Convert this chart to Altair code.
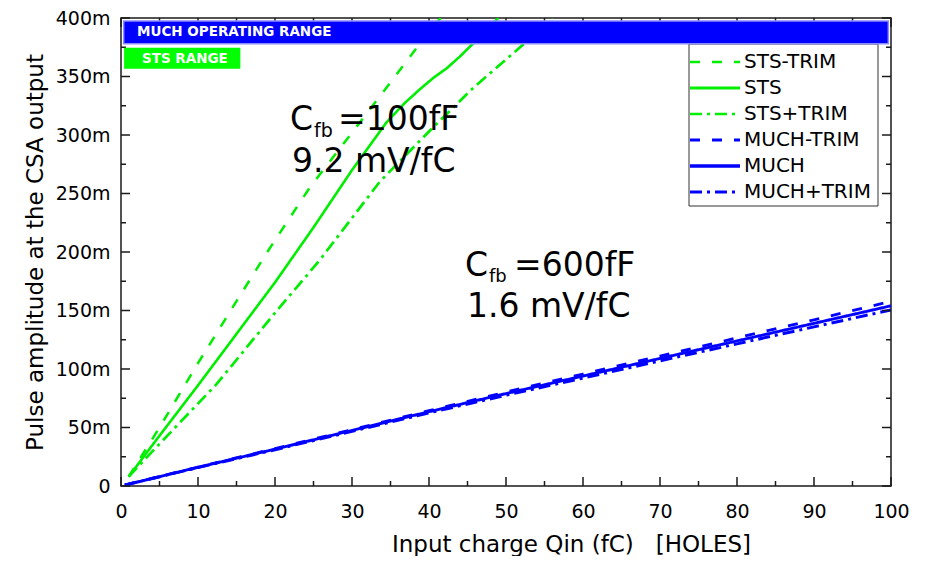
import altair as alt
import pandas as pd

# ---------------- data ----------------
series_names = ["STS-TRIM", "STS", "STS+TRIM", "MUCH-TRIM", "MUCH", "MUCH+TRIM"]

sts_minus_x = [1, 5, 10, 15, 19, 24.5, 30, 35, 38.8, 41.5]
sts_minus_y = [8, 50, 105, 158, 200, 255, 302, 345, 378, 400]

sts_x = [1, 5, 10, 15, 20, 25, 30, 34.5, 36.8, 38.8, 40.6, 42.3, 44, 45.7, 49]
sts_y = [8, 43, 86, 130, 174, 221, 270, 311, 327, 339, 349, 357, 367, 378, 400]

sts_plus_x = [1, 5, 12.4, 20, 25.8, 33.6, 40, 45.7, 52.7, 56]
sts_plus_y = [8, 36, 87, 148, 193, 260, 303, 340, 380, 400]

much_x = [0.5, 10, 20, 30, 40, 50, 60, 70, 80, 90, 100]
much_y = [0.8, 16, 31.5, 47.5, 63.5, 79, 94, 109, 124, 139, 154]
much_minus_y = [0.8, 16.2, 32, 48.2, 64.4, 80.3, 95.7, 111, 126.6, 142, 157.8]
much_plus_y = [0.8, 15.8, 31, 46.7, 62.5, 77.6, 92.2, 107, 121.5, 136, 150.5]

band_names = ["MUCH OPERATING RANGE", "STS RANGE"]
band_x0 = [0.35, 0.4]
band_x1 = [99.65, 15.5]
band_y0 = [378, 356.6]
band_y1 = [397.5, 374.5]

x_ticks = [0, 10, 20, 30, 40, 50, 60, 70, 80, 90, 100]
y_ticks = [0, 50, 100, 150, 200, 250, 300, 350, 400]

x_title = "Input charge Qin (fC)\u00a0\u00a0 [HOLES]"
y_title = "Pulse amplitude at the CSA output"

# ---------------- styling ----------------
W, H = 770, 468
XMAX, YMAX = 100.0, 400.0
FONT = "DejaVu Sans"
GREEN = "#00ee00"
BLUE = "#0000ff"
FRAME = "#1a1a1a"
OX, OY = 121, 18  # page position of the plot origin

colors = [GREEN, GREEN, GREEN, BLUE, BLUE, BLUE]
dashes = [[10, 12], [1, 0], [12, 5, 3, 5], [10, 12], [1, 0], [12, 5, 3, 5]]
widths = [2.5, 3, 2.5, 3, 3.5, 3]

series_x = [sts_minus_x, sts_x, sts_plus_x, much_x, much_x, much_x]
series_y = [sts_minus_y, sts_y, sts_plus_y, much_minus_y, much_y, much_plus_y]

rows = []
for k, name in enumerate(series_names):
    for j, (xv, yv) in enumerate(zip(series_x[k], series_y[k])):
        rows.append({"series": name, "i": j, "x": xv, "y": yv})
df = pd.DataFrame(rows)

xs = alt.Scale(domain=[0, XMAX], nice=False, zero=False)
ys = alt.Scale(domain=[0, YMAX], nice=False, zero=False)

x_axis = alt.Axis(values=x_ticks, title=x_title, labelPadding=16, labelFlush=False,
                  titleX=450, titleY=551 - (OY + H),
                  titleAlign="center", titleBaseline="alphabetic")
y_axis = alt.Axis(values=y_ticks, title=y_title, labelPadding=11, labelFlush=False,
                  labelExpr="datum.value == 0 ? '0' : datum.value + 'm'",
                  titleX=-79, titleBaseline="alphabetic")

def X(f):
    return alt.X(f, scale=xs, axis=x_axis, title=x_title)

def Y(f):
    return alt.Y(f, scale=ys, axis=y_axis, title=y_title)

lines = alt.Chart(df).mark_line(clip=True, strokeCap="butt").encode(
    x=X("x:Q"),
    y=Y("y:Q"),
    color=alt.Color("series:N", scale=alt.Scale(domain=series_names, range=colors), legend=None),
    strokeDash=alt.StrokeDash("series:N", scale=alt.Scale(domain=series_names, range=dashes), legend=None),
    strokeWidth=alt.StrokeWidth("series:N", scale=alt.Scale(domain=series_names, range=widths), legend=None),
    detail="series:N",
    order="i:Q",
)

# ---------------- inward frame ticks ----------------
px_y = YMAX / H
px_x = XMAX / W
def tick_len(v, major_step):
    return 9 if abs(v / major_step - round(v / major_step)) < 1e-9 else 5

xv = [i * 5 for i in range(21)]
yv = [i * 25 for i in range(17)]
bottom_df = pd.DataFrame({"v": xv, "a": [0.0] * len(xv), "b": [tick_len(v, 10) * px_y for v in xv]})
top_df = pd.DataFrame({"v": xv, "a": [YMAX] * len(xv), "b": [YMAX - tick_len(v, 10) * px_y for v in xv]})
left_df = pd.DataFrame({"v": yv, "a": [0.0] * len(yv), "b": [tick_len(v, 50) * px_x for v in yv]})
right_df = pd.DataFrame({"v": yv, "a": [XMAX] * len(yv), "b": [XMAX - tick_len(v, 50) * px_x for v in yv]})

def hticks(d):
    return alt.Chart(d).mark_rule(color=FRAME, strokeWidth=1.5).encode(
        x=X("v:Q"), y=Y("a:Q"), y2="b:Q")

def vticks(d):
    return alt.Chart(d).mark_rule(color=FRAME, strokeWidth=1.5).encode(
        y=Y("v:Q"), x=X("a:Q"), x2="b:Q")

ticks = [hticks(bottom_df), hticks(top_df), vticks(left_df), vticks(right_df)]

# ---------------- range bands ----------------
band_df = pd.DataFrame({"name": band_names, "x0": band_x0, "x1": band_x1, "y0": band_y0, "y1": band_y1})
band_blue = alt.Chart(band_df.iloc[[0]]).mark_rect(fill=BLUE, stroke="#8c8cff", strokeWidth=1.5).encode(
    x=X("x0:Q"), x2="x1:Q", y=Y("y0:Q"), y2="y1:Q")
band_green = alt.Chart(band_df.iloc[[1]]).mark_rect(fill="#00ff00").encode(
    x=X("x0:Q"), x2="x1:Q", y=Y("y0:Q"), y2="y1:Q")

one = pd.DataFrame({"k": [0]})

def text(t, px, py, size, weight="normal", color="black", baseline="alphabetic"):
    return alt.Chart(one).mark_text(
        text=t, align="left", baseline=baseline, font=FONT, fontSize=size,
        fontWeight=weight, color=color).encode(
        x=alt.value(px - OX), y=alt.value(py - OY))

band_texts = [
    text(band_names[0], 137, 32, 13.5, weight="bold", color="white", baseline="middle"),
    text(band_names[1], 142, 58.5, 13.5, weight="bold", color="white", baseline="middle"),
]

# ---------------- annotations ----------------
annots = [
    text("C", 290, 130, 33), text("fb", 314, 137, 19), text("=100fF", 338, 130, 33),
    text("9.2 mV/fC", 292, 172, 33),
    text("C", 465, 276, 33), text("fb", 489, 282, 18), text("=600fF", 514, 276, 33),
    text("1.6 mV/fC", 467, 317, 33),
]

# ---------------- legend ----------------
legend_box = alt.Chart(one).mark_rect(fillOpacity=0, stroke="#333333", strokeWidth=1).encode(
    x=alt.value(689 - OX), x2=alt.value(878 - OX), y=alt.value(44 - OY), y2=alt.value(206 - OY))
legend_rows = [62, 88, 114, 140, 166, 192]
legend_layers = [legend_box]
for k, name in enumerate(series_names):
    ry = legend_rows[k]
    legend_layers.append(
        alt.Chart(one).mark_rule(color=colors[k], strokeDash=dashes[k], strokeWidth=widths[k],
                                 strokeCap="butt").encode(
            x=alt.value(690 - OX), x2=alt.value(740 - OX), y=alt.value(ry - OY)))
    legend_layers.append(text(name, 744, ry, 20, baseline="middle"))

chart = alt.layer(
    lines, *ticks, *legend_layers, band_blue, band_green, *band_texts, *annots
).properties(
    width=W, height=H,
    autosize=alt.AutoSizeParams(type="none"),
    padding={"left": OX - 8, "top": OY - 8, "right": 26, "bottom": 70},
    background="white",
).configure_view(
    stroke=FRAME, strokeWidth=1.5
).configure_axis(
    domain=False, ticks=False, grid=False,
    labelFont=FONT, labelFontSize=19, labelColor="black",
    titleFont=FONT, titleFontSize=23, titleFontWeight="normal", titleColor="black",
)

chart.save("out.html", embed_options={"renderer": "svg", "actions": False})
